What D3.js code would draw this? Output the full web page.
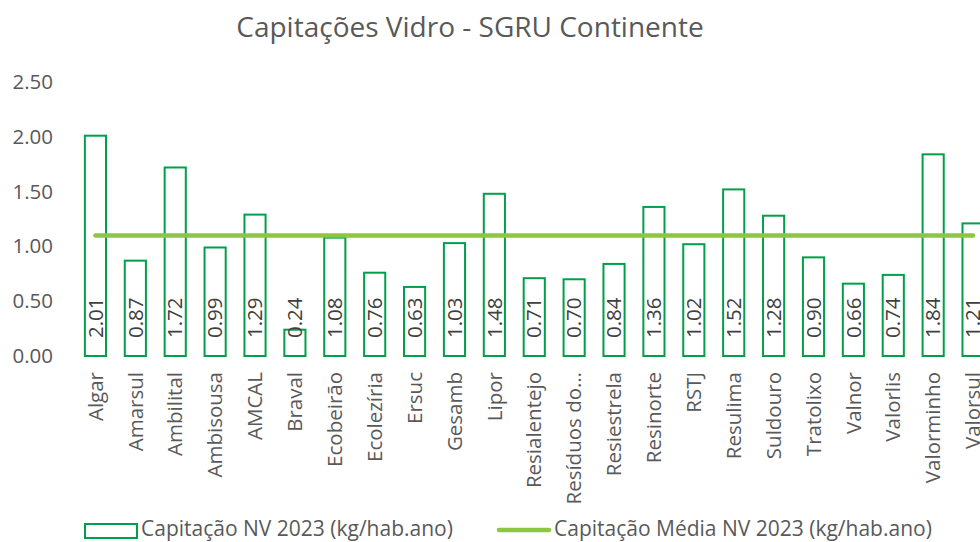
<!DOCTYPE html>
<html><head><meta charset="utf-8">
<script src="https://cdn.jsdelivr.net/npm/d3@7"></script>
<style>body{margin:0;background:#fff;overflow:hidden}svg{display:block;font-family:"Open Sans",sans-serif}</style>
</head><body><svg id="c" width="980" height="542"></svg>
<script>
const categories = ["Algar","Amarsul","Ambilital","Ambisousa","AMCAL","Braval","Ecobeirão","Ecolezíria","Ersuc","Gesamb","Lipor","Resialentejo","Resíduos do…","Resiestrela","Resinorte","RSTJ","Resulima","Suldouro","Tratolixo","Valnor","Valorlis","Valorminho","Valorsul"];
const capitacao = [2.01,0.87,1.72,0.99,1.29,0.24,1.08,0.76,0.63,1.03,1.48,0.71,0.70,0.84,1.36,1.02,1.52,1.28,0.90,0.66,0.74,1.84,1.21];
const media = 1.10;
const yTicks = [0,0.5,1,1.5,2,2.5];
const title = "Capitações Vidro - SGRU Continente";
const seriesNames = ["Capitação NV 2023 (kg/hab.ano)","Capitação Média NV 2023 (kg/hab.ano)"];

const svg = d3.select("#c");
const barGreen = "#00A04A", lineGreen = "#8DC63F", txt = "#595959";
const fs = 20.5;
const x = d3.scaleBand().domain(categories).range([75.5, 993]).paddingInner(0.42).paddingOuter(0.21);
const y = d3.scaleLinear().domain([0,2.5]).range([356, 82]);

svg.append("text").attr("x",470).attr("y",37).attr("text-anchor","middle")
  .attr("fill",txt).attr("font-size",28).text(title);

const yAxis = svg.append("g").attr("transform","translate(53,0)")
  .call(d3.axisLeft(y).tickValues(yTicks).tickFormat(d3.format(".2f")).tickSize(0).tickPadding(0));
yAxis.select(".domain").remove();
yAxis.selectAll("text").attr("fill",txt).attr("font-size",fs).attr("font-family","Open Sans");

svg.append("g").selectAll("rect").data(categories).join("rect")
  .attr("x",d=>x(d)+1).attr("width",x.bandwidth()-2)
  .attr("y",(d,i)=>y(capitacao[i])).attr("height",(d,i)=>y(0)-y(capitacao[i]))
  .attr("fill","#fff").attr("stroke",barGreen).attr("stroke-width",2);

svg.append("g").selectAll("text").data(categories).join("text")
  .attr("transform",d=>`translate(${x(d)+x.bandwidth()/2+7.2},${y(0)-18}) rotate(-90)`)
  .attr("fill","#404040").attr("font-size",fs).text((d,i)=>capitacao[i].toFixed(2));

const line = d3.line().x(d=>x(d)+x.bandwidth()/2).y(()=>y(media));
svg.append("path").datum(categories).attr("d",line).attr("fill","none")
  .attr("stroke",lineGreen).attr("stroke-width",4.5).attr("stroke-linecap","round");

const xAxis = svg.append("g").attr("transform",`translate(0,${y(0)})`)
  .call(d3.axisBottom(x).tickSize(0).tickPadding(0));
xAxis.select(".domain").remove();
xAxis.selectAll("text").attr("fill",txt).attr("font-size",fs).attr("font-family","Open Sans")
  .attr("text-anchor","end").attr("dy",null)
  .attr("transform","translate(7.2,16) rotate(-90)");

const lg = svg.append("g");
lg.append("rect").attr("x",85).attr("y",524).attr("width",52).attr("height",14)
  .attr("fill","#fff").attr("stroke",barGreen).attr("stroke-width",2);
lg.append("text").attr("x",141).attr("y",536).attr("fill",txt).attr("font-size",21).text(seriesNames[0]);
lg.append("line").attr("x1",499).attr("x2",549).attr("y1",530).attr("y2",530)
  .attr("stroke",lineGreen).attr("stroke-width",4.5).attr("stroke-linecap","round");
lg.append("text").attr("x",554).attr("y",536).attr("fill",txt).attr("font-size",21).text(seriesNames[1]);
</script></body></html>
